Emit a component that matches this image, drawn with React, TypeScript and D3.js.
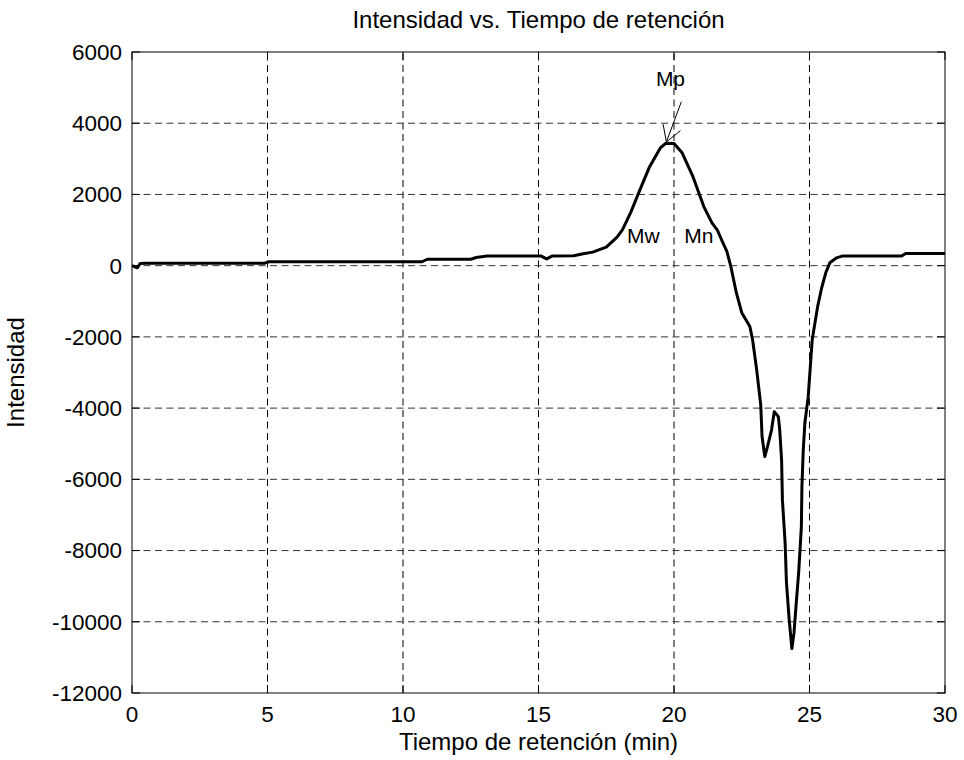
import React from "react";
import * as d3 from "d3";

const times = [0, 0.1, 0.2, 0.3, 0.5, 4.9, 5.05, 10.7, 10.9, 12.5, 12.7, 13.1, 15.1, 15.3, 15.5, 16.3, 16.6, 17.0, 17.5, 17.9, 18.1, 18.4, 18.7, 19.1, 19.5, 19.7, 20.0, 20.3, 20.7, 21.1, 21.4, 21.6, 21.8, 21.95, 22.1, 22.3, 22.5, 22.8, 22.9, 23.05, 23.2, 23.25, 23.35, 23.45, 23.6, 23.7, 23.85, 23.9, 23.97, 24.0, 24.1, 24.15, 24.25, 24.35, 24.43, 24.5, 24.6, 24.7, 24.72, 24.77, 24.83, 24.95, 25.1, 25.3, 25.45, 25.6, 25.75, 26.0, 26.2, 28.4, 28.55, 30];
const intensity = [0, -30, -60, 60, 70, 70, 110, 110, 180, 180, 230, 270, 270, 190, 270, 280, 330, 380, 520, 800, 1010, 1490, 2050, 2780, 3310, 3440, 3430, 3170, 2500, 1660, 1200, 1000, 650, 400, -30, -760, -1320, -1710, -2080, -2920, -3900, -4800, -5360, -5080, -4610, -4100, -4240, -4600, -5450, -6570, -7780, -8900, -9940, -10750, -10300, -9580, -8620, -7330, -6210, -5170, -4410, -3700, -2080, -1150, -620, -200, 80, 220, 270, 270, 340, 340];

const xTicks = [0, 5, 10, 15, 20, 25, 30];
const yTicks = [6000, 4000, 2000, 0, -2000, -4000, -6000, -8000, -10000, -12000];

const labelNames = ["Mp", "Mw", "Mn"];
const labelT = [19.87, 18.87, 20.92];
const labelV = [5050, 636, 636];
const arrowFrom = [20.27, 4600];
const arrowTo = [19.72, 3475];

const title = "Intensidad vs. Tiempo de retención";
const xLabel = "Tiempo de retención (min)";
const yLabel = "Intensidad";

export default function App() {
  const W = 964, H = 760;
  const x = d3.scaleLinear().domain([0, 30]).range([132, 945]);
  const y = d3.scaleLinear().domain([-12000, 6000]).range([693, 52]);
  const data = times.map((t, i) => [t, intensity[i]] as [number, number]);
  const line = d3.line<[number, number]>().x(d => x(d[0])).y(d => y(d[1]));
  const font = "Liberation Sans, Arial, sans-serif";
  const fsTick = 22.5;
  const fsLabel = 24;
  const fsAnn = 21;
  const tickLen = 8;

  const ax0 = x(arrowFrom[0]), ay0 = y(arrowFrom[1]);
  const ax1 = x(arrowTo[0]), ay1 = y(arrowTo[1]);
  const ang = Math.atan2(ay0 - ay1, ax0 - ax1);
  const hl = 18, ha = (31 * Math.PI) / 180;
  const h1 = [ax1 + hl * Math.cos(ang - ha), ay1 + hl * Math.sin(ang - ha)];
  const h2 = [ax1 + hl * Math.cos(ang + ha), ay1 + hl * Math.sin(ang + ha)];

  const [x0, x1] = x.range();
  const [yb, yt] = y.range();

  return (
    <svg width={W} height={H} style={{ position: "absolute", left: 0, top: 0, background: "#fff" }} fontFamily={font}>
      <rect x={0} y={0} width={W} height={H} fill="#fff" />
      {xTicks.slice(1, -1).map(t => (
        <line key={"gx" + t} x1={x(t)} x2={x(t)} y1={yb} y2={yt} stroke="#000" strokeWidth={1} strokeDasharray="7,4.5" />
      ))}
      {yTicks.slice(1, -1).map(v => (
        <line key={"gy" + v} x1={x0} x2={x1} y1={y(v)} y2={y(v)} stroke="#333" strokeWidth={1} strokeDasharray="7,4.5" />
      ))}
      {xTicks.map(t => (
        <g key={"tx" + t}>
          <line x1={x(t)} x2={x(t)} y1={yb} y2={yb - tickLen} stroke="#000" />
          <line x1={x(t)} x2={x(t)} y1={yt} y2={yt + tickLen} stroke="#000" />
          <text x={x(t)} y={722} textAnchor="middle" fontSize={fsTick}>{t}</text>
        </g>
      ))}
      {yTicks.map(v => (
        <g key={"ty" + v}>
          <line x1={x0} x2={x0 + tickLen} y1={y(v)} y2={y(v)} stroke="#000" />
          <line x1={x1} x2={x1 - tickLen} y1={y(v)} y2={y(v)} stroke="#000" />
          <text x={122} y={y(v)} dy="0.35em" textAnchor="end" fontSize={fsTick}>{v}</text>
        </g>
      ))}
      <rect x={x0} y={yt} width={x1 - x0} height={yb - yt} fill="none" stroke="#000" strokeWidth={1} />
      <path d={line(data) || ""} fill="none" stroke="#000" strokeWidth={3} strokeLinejoin="round" />
      <line x1={ax0} y1={ay0} x2={ax1} y2={ay1} stroke="#000" strokeWidth={1} />
      <polyline points={`${h1[0]},${h1[1]} ${ax1},${ay1} ${h2[0]},${h2[1]}`} fill="none" stroke="#000" strokeWidth={1} />
      {labelNames.map((n, i) => (
        <text key={n} x={x(labelT[i])} y={y(labelV[i])} textAnchor="middle" fontSize={fsAnn}>{n}</text>
      ))}
      <text x={(x0 + x1) / 2} y={28} textAnchor="middle" fontSize={fsLabel}>{title}</text>
      <text x={(x0 + x1) / 2} y={750} textAnchor="middle" fontSize={fsLabel}>{xLabel}</text>
      <text transform={`translate(24,${(yt + yb) / 2}) rotate(-90)`} textAnchor="middle" fontSize={fsLabel}>{yLabel}</text>
    </svg>
  );
}
